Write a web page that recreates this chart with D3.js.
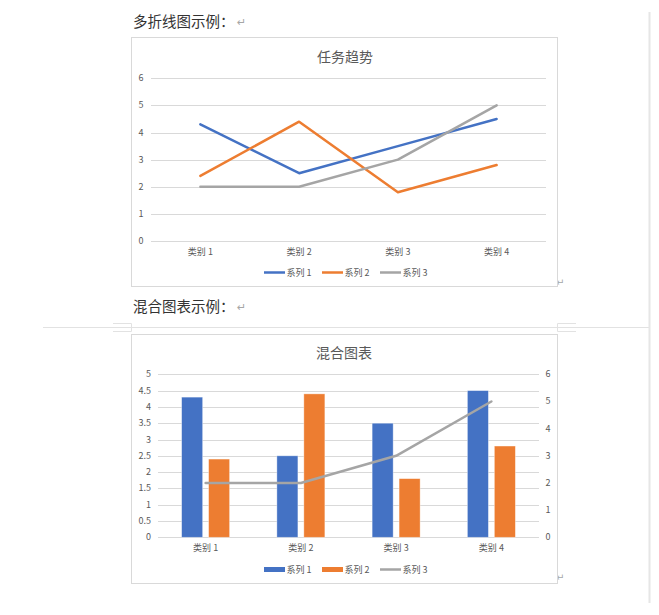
<!DOCTYPE html>
<html>
<head>
<meta charset="utf-8">
<script src="https://cdn.jsdelivr.net/npm/d3@7"></script>
<style>
  html, body { margin: 0; padding: 0; background: #ffffff; }
  svg { display: block; }
  text { font-family: "Noto Sans CJK SC", "Noto Sans", sans-serif; }
</style>
</head>
<body>
<svg id="chart" width="659" height="615"></svg>
<script>
// ---------- data ----------
const categories = ["类别 1", "类别 2", "类别 3", "类别 4"];
const seriesNames = ["系列 1", "系列 2", "系列 3"];
const series1 = [4.3, 2.5, 3.5, 4.5];
const series2 = [2.4, 4.4, 1.8, 2.8];
const series3 = [2, 2, 3, 5];
const lineTicks = [0, 1, 2, 3, 4, 5, 6];
const barTicksLeft = [0, 0.5, 1, 1.5, 2, 2.5, 3, 3.5, 4, 4.5, 5];
const barTicksRight = [0, 1, 2, 3, 4, 5, 6];
const headings = ["多折线图示例：", "混合图表示例："];
const chartTitles = ["任务趋势", "混合图表"];

const colors = ["#4472C4", "#ED7D31", "#A5A5A5"];
const textColor = "#595959";
const gridColor = "#d9d9d9";

const svg = d3.select("#chart");

// ---------- page decorations (Word document) ----------
const deco = svg.append("g").attr("stroke", "#e2e2e2").attr("fill", "none");
deco.append("line").attr("x1", 43).attr("x2", 649).attr("y1", 327.5).attr("y2", 327.5);
deco.append("line").attr("x1", 649.5).attr("x2", 649.5).attr("y1", 12).attr("y2", 603).attr("stroke-width", 2).attr("stroke", "#e6e6e6");
// small corner brackets
deco.append("path").attr("d", "M113,323.5H131.5V331.5H113");
deco.append("path").attr("d", "M576,323.5H557.5V331.5H576");

// headings
const headY = [26.5, 312];
headings.forEach((h, i) => {
  svg.append("text").attr("x", 133).attr("y", headY[i])
    .attr("font-size", 14.5).attr("fill", "#333333").text(h);
  svg.append("text").attr("x", 237).attr("y", headY[i] - 1)
    .attr("font-size", 11).attr("fill", "#a6a6a6")
    .style("font-family", "DejaVu Sans").text("↵");
});
// return marks at chart bottom right
[286, 581].forEach(y => {
  svg.append("text").attr("x", 556).attr("y", y)
    .attr("font-size", 10).attr("fill", "#a6a6a6")
    .style("font-family", "DejaVu Sans").text("↵");
});

// ---------- helpers ----------
function frame(g, x0, y0, x1, y1) {
  g.append("rect").attr("x", x0).attr("y", y0).attr("width", x1 - x0).attr("height", y1 - y0)
    .attr("fill", "#ffffff").attr("stroke", gridColor).attr("stroke-width", 1);
}
function legend(g, y, kinds) {
  const lx = d3.scaleLinear().domain([0, 1]).range([264, 322]);
  seriesNames.forEach((name, i) => {
    const x = lx(i);
    if (kinds[i] === "bar") {
      g.append("rect").attr("x", x).attr("y", y - 2.5).attr("width", 21).attr("height", 5).attr("fill", colors[i]);
    } else {
      g.append("line").attr("x1", x).attr("x2", x + 21).attr("y1", y).attr("y2", y)
        .attr("stroke", colors[i]).attr("stroke-width", 2.5);
    }
    g.append("text").attr("x", x + 22.5).attr("y", y + 3.2).attr("font-size", 9)
      .attr("fill", textColor).text(name);
  });
}

// ---------- chart 1: line chart ----------
{
  const g = svg.append("g");
  frame(g, 131.5, 37.5, 557.5, 286.5);
  g.append("text").attr("x", 345).attr("y", 61.5).attr("text-anchor", "middle")
    .attr("font-size", 14).attr("fill", textColor).text(chartTitles[0]);

  const x = d3.scalePoint().domain(categories).range([151, 546]).padding(0.5);
  const y = d3.scaleLinear().domain([0, 6]).range([241, 78.3]);

  g.selectAll(".grid").data(lineTicks).join("line")
    .attr("x1", 151).attr("x2", 546)
    .attr("y1", d => Math.round(y(d)) + 0.5).attr("y2", d => Math.round(y(d)) + 0.5)
    .attr("stroke", gridColor).attr("stroke-width", 1);

  g.selectAll(".ylab").data(lineTicks).join("text")
    .attr("x", 143.5).attr("y", d => y(d) + 3).attr("text-anchor", "end")
    .attr("font-size", 9).attr("fill", textColor).text(d => d);

  g.selectAll(".xlab").data(categories).join("text")
    .attr("x", d => x(d)).attr("y", 255).attr("text-anchor", "middle")
    .attr("font-size", 9).attr("fill", textColor).text(d => d);

  const line = d3.line().x((d, i) => x(categories[i])).y(d => y(d));
  [series1, series2, series3].forEach((s, i) => {
    g.append("path").datum(s).attr("d", line).attr("fill", "none")
      .attr("stroke", colors[i]).attr("stroke-width", 2.5)
      .attr("stroke-linejoin", "round").attr("stroke-linecap", "round");
  });
  legend(g, 272.5, ["line", "line", "line"]);
}

// ---------- chart 2: combo chart ----------
{
  const g = svg.append("g");
  frame(g, 131.5, 334.5, 557.5, 583.5);
  g.append("text").attr("x", 344).attr("y", 358).attr("text-anchor", "middle")
    .attr("font-size", 14).attr("fill", textColor).text(chartTitles[1]);

  const x0 = d3.scaleBand().domain(categories).range([158, 539]);
  const groupW = 48;
  const x1 = d3.scaleBand().domain([0, 1]).range([0, groupW]).paddingInner(0.22);
  const y = d3.scaleLinear().domain([0, 5]).range([537.3, 374.3]);
  const y2 = d3.scaleLinear().domain([0, 6]).range([537.3, 374.3]);

  g.selectAll(".grid").data(barTicksLeft).join("line")
    .attr("x1", 158).attr("x2", 539)
    .attr("y1", d => Math.round(y(d)) + 0.5).attr("y2", d => Math.round(y(d)) + 0.5)
    .attr("stroke", gridColor).attr("stroke-width", 1);

  g.selectAll(".ylab").data(barTicksLeft).join("text")
    .attr("x", 151).attr("y", d => y(d) + 3).attr("text-anchor", "end")
    .attr("font-size", 9).attr("fill", textColor).text(d => d);

  g.selectAll(".ylab2").data(barTicksRight).join("text")
    .attr("x", 545.5).attr("y", d => y2(d) + 3).attr("text-anchor", "start")
    .attr("font-size", 9).attr("fill", textColor).text(d => d);

  g.selectAll(".xlab").data(categories).join("text")
    .attr("x", d => x0(d) + x0.bandwidth() / 2).attr("y", 551).attr("text-anchor", "middle")
    .attr("font-size", 9).attr("fill", textColor).text(d => d);

  const off = (x0.bandwidth() - groupW) / 2;
  [series1, series2].forEach((s, si) => {
    g.selectAll(".bar" + si).data(s).join("rect")
      .attr("x", (d, i) => x0(categories[i]) + off + x1(si))
      .attr("width", x1.bandwidth())
      .attr("y", d => y(d))
      .attr("height", d => y(0) - y(d))
      .attr("fill", colors[si])
      .attr("stroke", "#ffffff").attr("stroke-opacity", 0.5).attr("stroke-width", 0.75);
  });

  const line = d3.line().x((d, i) => x0(categories[i]) + x0.bandwidth() / 2).y(d => y2(d));
  g.append("path").datum(series3).attr("d", line).attr("fill", "none")
    .attr("stroke", colors[2]).attr("stroke-width", 2.5)
    .attr("stroke-linejoin", "round").attr("stroke-linecap", "round");

  legend(g, 569.5, ["bar", "bar", "line"]);
}
</script>
</body>
</html>
